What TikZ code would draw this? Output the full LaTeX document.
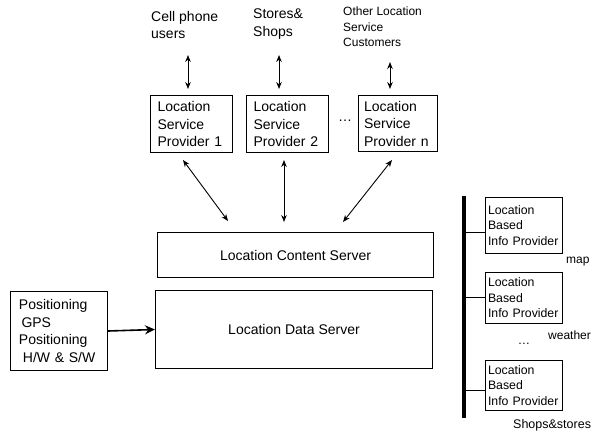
\documentclass[tikz,border=0pt]{standalone}
\usepackage{fontspec}
\setmainfont{Liberation Sans}
\usetikzlibrary{arrows.meta}
\begin{document}
\begin{tikzpicture}[x=1pt,y=-1pt,
  box/.style={draw, line width=1pt, inner sep=0pt},
  big/.style={font=\fontsize{14}{17.5}\selectfont},
  mid/.style={font=\fontsize{12.3}{15.5}\selectfont},
  sml/.style={font=\fontsize{12}{15.5}\selectfont},
  lbl/.style={align=left, inner sep=0pt},
  dbl/.style={{Stealth[length=7pt,width=5.5pt]}-{Stealth[length=7pt,width=5.5pt]}, line width=0.9pt},
  one/.style={-{Stealth[length=10pt,width=9pt]}, line width=1.6pt}
]
\useasboundingbox (0,0) rectangle (598,432);

% top labels
\node[lbl, big, anchor=north west] (cell) at (151,11) {Cell phone\\users};
\node[lbl, big, anchor=north west] (stores) at (253,9) {Stores\&\\Shops};
\node[lbl, sml, anchor=north west] (other) at (343,7) {Other Location\\Service\\Customers};

% provider boxes
\node[box, big, align=left, minimum width=82pt, minimum height=57pt, text width=68pt, anchor=north west] (p1) at (150,95) {Location\\Service\\Provider 1};
\node[box, big, align=left, minimum width=82pt, minimum height=57pt, text width=68pt, anchor=north west] (p2) at (246,95) {Location\\Service\\Provider 2};
\node[box, big, align=left, minimum width=79pt, minimum height=56pt, text width=68pt, anchor=north west] (pn) at (358,95) {Location\\Service\\Provider n};
\node[big, inner sep=0pt] (dots) at (345,121) {\ldots};

% servers
\node[box, big, minimum width=276pt, minimum height=45pt, anchor=north west] (lcs) at (157,232) {Location Content Server};
\node[box, big, minimum width=277pt, minimum height=78pt, anchor=north west] (lds) at (155,290) {Location Data Server};

% positioning
\node[box, big, align=left, minimum width=97pt, minimum height=79pt, text width=80pt, anchor=north west] (pos) at (10,291) {Positioning\\\hspace{2.5pt}GPS\\Positioning\\\hspace{4pt}H/W \& S/W};

% arrows top
\coordinate (a1t) at (188,55); \coordinate (a1b) at (188,89);
\coordinate (a2t) at (279,55); \coordinate (a2b) at (279,89);
\coordinate (a3t) at (390,62); \coordinate (a3b) at (390,89);
\draw[dbl] (a1t) -- (a1b);
\draw[dbl] (a2t) -- (a2b);
\draw[dbl] (a3t) -- (a3b);

% diagonal arrows
\coordinate (d1t) at (183,160); \coordinate (d1b) at (228,221);
\coordinate (d2t) at (284,160); \coordinate (d2b) at (284,222);
\coordinate (d3t) at (392,160); \coordinate (d3b) at (343,222);
\draw[dbl] (d1t) -- (d1b);
\draw[dbl] (d2t) -- (d2b);
\draw[dbl] (d3t) -- (d3b);

% positioning arrow
\draw[one] (pos.east) -- (lds.west);

% right side bus
\coordinate (bt) at (464,196); \coordinate (bb) at (464,418);
\draw[line width=3.5pt] (bt) -- (bb);
\node[box, mid, align=left, minimum width=77pt, minimum height=56pt, text width=72pt, anchor=north west] (i1) at (485,197) {Location\\Based\\Info Provider};
\node[box, mid, align=left, minimum width=77pt, minimum height=51pt, text width=72pt, anchor=north west] (i2) at (485,272) {Location\\Based\\Info Provider};
\node[box, mid, align=left, minimum width=77pt, minimum height=50pt, text width=72pt, anchor=north west] (i3) at (485,360) {Location\\Based\\Info Provider};
\coordinate (c1) at (464,232); \coordinate (c2) at (464,297); \coordinate (c3) at (464,390);
\draw[line width=0.9pt] (c1) -- (c1 -| i1.west);
\draw[line width=0.9pt] (c2) -- (c2 -| i2.west);
\draw[line width=0.9pt] (c3) -- (c3 -| i3.west);

\node[sml, inner sep=0pt, anchor=west] (map) at (566,262) {map};
\node[sml, inner sep=0pt, anchor=west] (weather) at (548,335) {weather};
\node[mid, inner sep=0pt] (rdots) at (524,344) {\ldots};
\node[font=\fontsize{12.5}{15}\selectfont, inner sep=0pt, anchor=west] (shops) at (513,425) {Shops\&stores};
\end{tikzpicture}
\end{document}
